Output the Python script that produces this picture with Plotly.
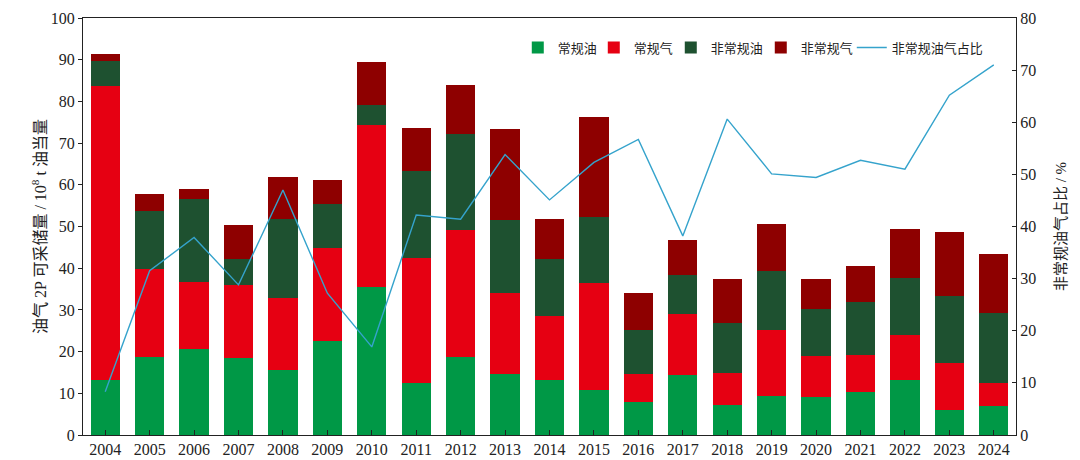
import plotly.graph_objects as go

years = [str(y) for y in range(2004, 2025)]

# 10^8 t oil equivalent, stacked segments
conv_oil = [13.2, 18.8, 20.6, 18.5, 15.7, 22.5, 35.6, 12.4, 18.6, 14.6, 13.3,
            10.8, 7.8, 14.4, 7.2, 9.4, 9.0, 10.3, 13.3, 6.0, 7.0]
conv_gas = [70.5, 20.9, 16.0, 17.5, 17.1, 22.3, 38.7, 30.1, 30.6, 19.4, 15.2,
            25.7, 6.9, 14.5, 7.6, 15.9, 9.9, 8.9, 10.8, 11.2, 5.5]
unconv_oil = [6.1, 14.0, 19.9, 6.2, 18.9, 10.6, 4.8, 20.7, 23.0, 17.6, 13.6,
              15.7, 10.6, 9.4, 12.1, 14.0, 11.2, 12.8, 13.5, 16.1, 16.7]
unconv_gas = [1.5, 4.0, 2.6, 8.2, 10.2, 5.7, 10.3, 10.5, 11.7, 21.9, 9.7,
              24.1, 8.7, 8.5, 10.5, 11.4, 7.2, 8.5, 11.7, 15.5, 14.1]
# percent, right axis
unconv_share = [8.3, 31.5, 37.9, 28.8, 47.0, 27.2, 16.9, 42.2, 41.4, 53.8, 45.1,
                52.3, 56.7, 38.2, 60.6, 50.1, 49.4, 52.7, 51.0, 65.2, 71.0]

FONT = "Liberation Serif, Noto Sans CJK SC, serif"

fig = go.Figure()
# name, values, colour, legend entry width (a bit under the text width, keeps it tight)
bars = [
    ("常规油", conv_oil, "#009846", 31),
    ("常规气", conv_gas, "#E60012", 32),
    ("非常规油", unconv_oil, "#1E5130", 45),
    ("非常规气", unconv_gas, "#8E0000", 46),
]
for name, vals, col, lw in bars:
    fig.add_trace(go.Bar(
        x=years, y=vals, name=name, legendwidth=lw,
        marker=dict(color=col, line=dict(width=0)),
    ))

fig.add_trace(go.Scatter(
    x=years, y=unconv_share, name="非常规油气占比", yaxis="y2",
    mode="lines", line=dict(color="#35A3CC", width=1.4),
))

# page has an 8px body margin, so the figure is 8px smaller than the window
fig.update_layout(
    width=1072, height=452,
    barmode="stack", bargap=0.34,
    plot_bgcolor="white", paper_bgcolor="white",
    margin=dict(l=75, r=64, t=10, b=25),
    font=dict(family=FONT, size=15, color="#222"),
    showlegend=True,
    legend=dict(
        orientation="h", x=0.466, xanchor="left", y=0.965, yanchor="top",
        bgcolor="rgba(0,0,0,0)", font=dict(size=13),
        traceorder="normal", itemwidth=30,
    ),
    xaxis=dict(
        automargin=False,
        showline=True, linecolor="#222", linewidth=1, mirror=True,
        ticks="inside", ticklen=5, tickcolor="#222",
        tickfont=dict(size=16),
    ),
    yaxis=dict(
        automargin=False,
        range=[0, 100], dtick=10, showgrid=False, zeroline=False,
        showline=True, linecolor="#222", linewidth=1,
        ticks="outside", ticklen=4, tickcolor="#222",
        tickfont=dict(size=16),
        title=dict(text="油气 2P 可采储量 / 10<sup>8</sup> t 油当量",
                   font=dict(size=16), standoff=0),
    ),
    yaxis2=dict(
        automargin=False,
        range=[0, 80], dtick=10, overlaying="y", side="right",
        showgrid=False, zeroline=False,
        showline=True, linecolor="#222", linewidth=1,
        ticks="inside", ticklen=4, tickcolor="#222",
        tickfont=dict(size=16),
        title=dict(text="非常规油气占比 / %", font=dict(size=15), standoff=20),
    ),
)

fig.write_html("out.html")
